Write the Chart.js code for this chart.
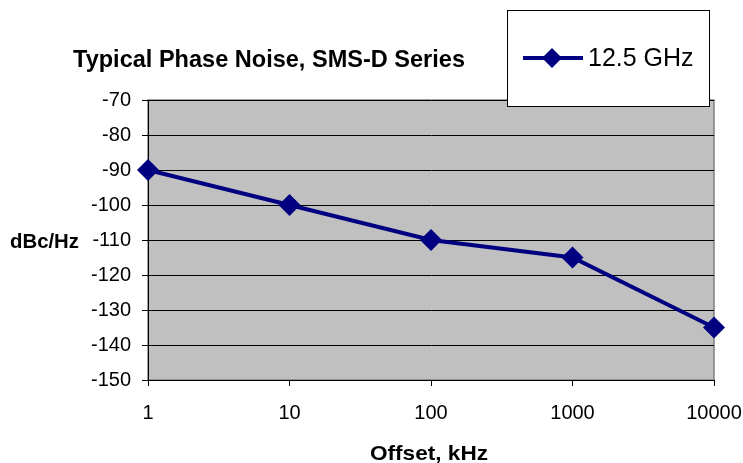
<!DOCTYPE html>
<html>
<head>
<meta charset="utf-8">
<script src="https://cdn.jsdelivr.net/npm/chart.js@4"></script>
<style>
  body { margin: 0; background: #fff; }
  #wrap { width: 743px; height: 463px; position: relative; }
</style>
</head>
<body>
<div id="wrap"><canvas id="noiseChart"></canvas></div>
<script>
// Chart data
const offsets = ['1', '10', '100', '1000', '10000'];
const phaseNoise = [-90, -100, -110, -115, -135];
const seriesName = '12.5 GHz';
const yMin = -150, yMax = -70, yStep = 10;

const FONT = '"Liberation Sans", Arial, sans-serif';

// draw text centred on cx, squeezed/stretched to the given width
function fitText(c, text, font, cx, baseline, width) {
    c.font = font;
    const w = c.measureText(text).width;
    c.save();
    c.translate(cx, baseline);
    c.scale(width / w, 1);
    c.textAlign = 'center';
    c.textBaseline = 'alphabetic';
    c.fillText(text, 0, 0);
    c.restore();
}

// Grey plot background, titles and the boxed legend
const decor = {
    id: 'decor',
    beforeDraw(chart) {
        const c = chart.ctx, a = chart.chartArea;
        c.save();
        c.fillStyle = '#c0c0c0';
        c.fillRect(a.left, a.top, a.right - a.left, a.bottom - a.top);
        c.strokeStyle = '#808080';
        c.lineWidth = 1.5;
        c.strokeRect(a.left, a.top, a.right - a.left, a.bottom - a.top);
        c.restore();
    },
    afterDraw(chart) {
        const c = chart.ctx;
        const ds = chart.data.datasets[0];
        c.save();
        c.fillStyle = '#000';
        fitText(c, 'Typical Phase Noise, SMS-D Series', 'bold 24px ' + FONT, 269, 67, 392);
        fitText(c, 'dBc/Hz', 'bold 20px ' + FONT, 44.5, 248, 69);
        fitText(c, 'Offset, kHz', 'bold 21px ' + FONT, 429, 460, 118);

        // legend box
        c.fillStyle = '#fff';
        c.fillRect(507, 10, 202, 96);
        c.strokeStyle = '#000';
        c.lineWidth = 1;
        c.strokeRect(507.5, 10.5, 202, 96);
        c.strokeStyle = ds.borderColor;
        c.lineWidth = ds.borderWidth;
        c.beginPath();
        c.moveTo(523, 58);
        c.lineTo(583, 58);
        c.stroke();
        c.fillStyle = ds.pointBackgroundColor;
        const r = 10;
        c.beginPath();
        c.moveTo(552, 58 - r); c.lineTo(552 + r, 58); c.lineTo(552, 58 + r); c.lineTo(552 - r, 58);
        c.closePath();
        c.fill();
        c.fillStyle = '#000';
        c.font = '25px ' + FONT;
        c.textAlign = 'left';
        c.textBaseline = 'alphabetic';
        c.fillText(ds.label, 588, 66);
        c.restore();
    }
};

const ctx = document.getElementById('noiseChart').getContext('2d');

new Chart(ctx, {
    type: 'line',
    data: {
        labels: offsets,
        datasets: [{
            label: seriesName,
            data: phaseNoise,
            borderColor: '#000080',
            backgroundColor: '#000080',
            pointBackgroundColor: '#000080',
            borderWidth: 4,
            pointStyle: 'rectRot',
            pointRadius: 11,
            pointBorderWidth: 0,
            tension: 0
        }]
    },
    options: {
        responsive: true,
        maintainAspectRatio: false,
        devicePixelRatio: 1,
        animation: false,
        layout: { padding: { left: 0, right: 29, top: 100, bottom: 0 } },
        plugins: {
            legend: { display: false },
            title: { display: false },
            tooltip: { enabled: false }
        },
        scales: {
            x: {
                type: 'category',
                offset: false,
                grid: { drawOnChartArea: false, drawTicks: true, tickLength: 6, color: '#000' },
                border: { display: true, color: '#000', width: 1 },
                ticks: { color: '#000', font: { family: FONT, size: 20 }, padding: 15, maxRotation: 0 },
                afterFit(scale) {
                    scale.height = 83;
                    scale.paddingLeft = 0;
                    scale.paddingRight = 0;
                }
            },
            y: {
                min: yMin,
                max: yMax,
                grid: { color: '#000', lineWidth: 1, drawTicks: true, tickLength: 6 },
                border: { display: true, color: '#000', width: 1 },
                ticks: { stepSize: yStep, color: '#000', font: { family: FONT, size: 20 }, padding: 11 },
                afterFit(scale) {
                    scale.width = 148;
                    scale.paddingTop = 0;
                    scale.paddingBottom = 0;
                }
            }
        }
    },
    plugins: [decor]
});
</script>
</body>
</html>
